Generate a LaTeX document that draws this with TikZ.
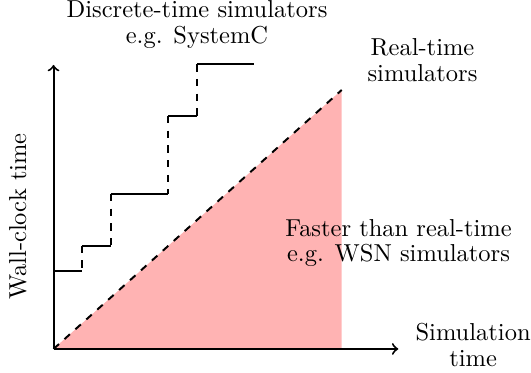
\documentclass[tikz,border=0pt]{standalone}
\usepackage{tikz}
\usetikzlibrary{positioning}
\usetikzlibrary{arrows}
\definecolor{fastred}{RGB}{255,179,179}
\tikzset{line/.style={black,thick}}
\tikzset{stair/.style={line}}
\tikzset{jump/.style={line,dashed}}
\tikzset{txt/.style={align=center,inner sep=0pt,font=\fontsize{10pt}{10.5pt}\selectfont}}

\begin{document}
\begin{tikzpicture}
  \useasboundingbox (-0.768,-0.344) rectangle (6.851,5.007);
  \coordinate (O) at (0,0);

  % Faster than real-time region
  \fill[fastred] (O) -- (4.135,3.716) coordinate (rt) -- (4.135,0) coordinate (rtb) -- cycle;
  \draw[line,dashed] (O) -- (rt);

  % Axes
  \draw[line,->] (O) -- (4.947,0) coordinate (xmax);
  \draw[line,->] (O) -- (0,4.075) coordinate (ymax);

  % Discrete-time steps
  \foreach \xa/\xb/\y/\ynext in {0/0.405/1.123/1.482, 0.405/0.821/1.482/2.224, 0.821/1.647/2.224/3.343, 1.647/2.063/3.343/4.085}
  {
    \draw[stair] (\xa,\y) -- (\xb,\y);
    \draw[jump] (\xb,\ynext) -- (\xb,\y);
  }
  \draw[stair] (2.063,4.085) -- (2.881,4.085);

  % Labels
  \node[txt] (discrete) at (2.059,4.66) {Discrete-time simulators\\e.g. SystemC};
  \node[txt] (realtime) at (5.294,4.146) {Real-time\\simulators};
  \node[txt] (faster) at (4.95,1.52) {Faster than real-time\\e.g. WSN simulators};
  \node[txt] (simtime) at (6.02,0.057) {Simulation\\time};
  \node[txt,rotate=90] (wallclock) at (-0.51,1.9) {Wall-clock time};
\end{tikzpicture}
\end{document}
